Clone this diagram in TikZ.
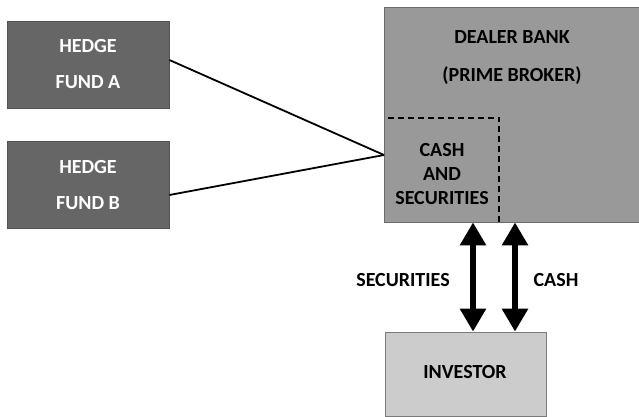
\documentclass[tikz,border=0pt]{standalone}
\usepackage{fontspec}
\setmainfont{Carlito}
\usepackage{xcolor}
\usepackage{tikz}
\usetikzlibrary{arrows.meta}

\definecolor{fundgray}{HTML}{666666}
\definecolor{bankgray}{HTML}{999999}
\definecolor{invgray}{HTML}{CCCCCC}

\tikzset{
  fundbox/.style={rectangle, fill=fundgray, draw=fundgray!80!black, line width=0.8pt,
    minimum width=162pt, minimum height=87pt, text=white, align=center},
  bankbox/.style={rectangle, fill=bankgray, draw=bankgray!70!black, line width=0.8pt},
  boxtext/.style={font=\fontsize{20}{24}\selectfont\bfseries, align=center},
  dblarrow/.style={line width=6.5pt, {Triangle[width=25pt,length=23pt]}-{Triangle[width=25pt,length=23pt]}}
}

\begin{document}
\begin{tikzpicture}[x=1pt, y=-1pt]
  \useasboundingbox (0,0) rectangle (639,417);

  % Hedge funds
  \node[fundbox, boxtext] (hfa) at (88,64.5) {HEDGE\\[12pt]FUND A};
  \node[fundbox, boxtext] (hfb) at (88,185) {HEDGE\\[12pt]FUND B};

  % Dealer bank, runs past the right edge
  \node[bankbox, minimum width=262pt, minimum height=215pt] (bank) at (515,114.5) {};
  \node[boxtext] (banktxt) at (512,57.5) {DEALER BANK\\[14pt](PRIME BROKER)};

  % Cash and securities corner
  \node[minimum width=115pt, minimum height=104pt] (cash) at (441.5,170) {};
  \node[boxtext] (cashtxt) at (442,174) {CASH\\AND\\SECURITIES};
  \draw[line width=1.6pt, dash pattern=on 6pt off 4pt]
    (cash.south east) -- (cash.north east) -- (cash.north west);

  % Investor
  \node[bankbox, fill=invgray, draw=invgray!60!black, minimum width=161pt, minimum height=84pt] (inv) at (465.5,374) {};
  \node[boxtext] (invtxt) at (465,372) {INVESTOR};

  % Lines from the funds
  \coordinate (meet) at (384,155);
  \draw[line width=1.8pt] ([yshift=4.5pt]hfa.east) -- (meet);
  \draw[line width=1.8pt] ([yshift=-10pt]hfb.east) -- (meet);

  % Flows between bank and investor
  \draw[dblarrow] ([xshift=7.5pt]inv.north) -- ([xshift=7.5pt]inv.north |- bank.south);
  \draw[dblarrow] ([xshift=49.5pt]inv.north) -- ([xshift=49.5pt]inv.north |- bank.south);
  \node[boxtext] (seclbl) at (403,280) {SECURITIES};
  \node[boxtext] (cashlbl) at (556,280) {CASH};
\end{tikzpicture}
\end{document}
